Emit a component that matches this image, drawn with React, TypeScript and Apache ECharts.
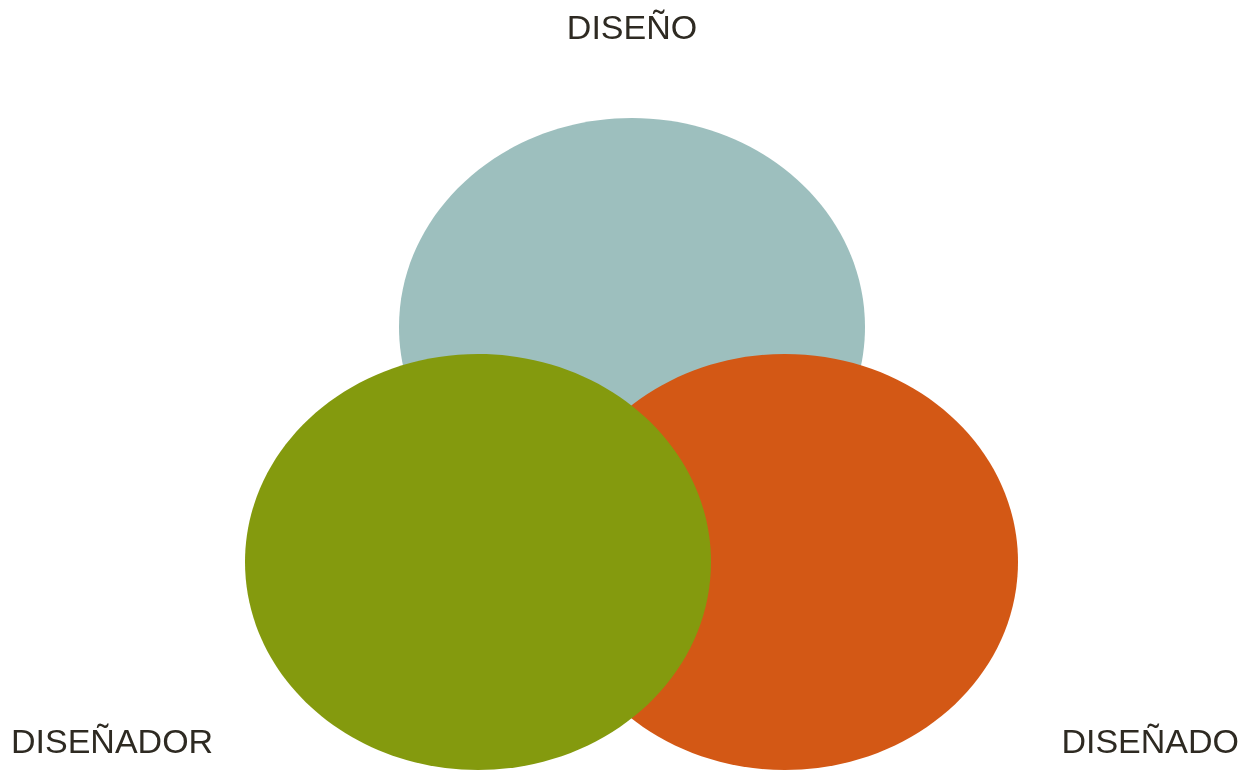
import React, { useEffect, useRef } from "react";
import * as echarts from "echarts";

const sets = ["DISEÑO", "DISEÑADOR", "DISEÑADO"];
const centerX = [632, 478, 785];
const centerY = [327, 562, 562];
const radiusX = [233, 233, 233];
const radiusY = [209, 208, 208];
const colors = ["#9DBFBE", "#849A0E", "#D35815"];

// draw order: teal at back, then orange, then green on top
const drawOrder = [0, 2, 1];

export default function App() {
  const ref = useRef<HTMLDivElement>(null);
  useEffect(() => {
    if (!ref.current) return;
    const chart = echarts.init(ref.current, null, { renderer: "svg" });
    const data = drawOrder.map((i) => ({
      name: sets[i],
      value: [centerX[i], centerY[i], radiusX[i], radiusY[i]],
      itemStyle: { color: colors[i] },
    }));
    chart.setOption({
      animation: false,
      grid: { left: 0, right: 0, top: 0, bottom: 0 },
      xAxis: { type: "value", min: 0, max: 1245, show: false },
      yAxis: { type: "value", min: 0, max: 771, inverse: true, show: false },
      series: [
        {
          type: "custom",
          coordinateSystem: "cartesian2d",
          data,
          renderItem: (params: any, api: any) => {
            const c = api.coord([api.value(0), api.value(1)]);
            const s = api.size([api.value(2), api.value(3)]);
            return {
              type: "ellipse",
              shape: { cx: c[0], cy: c[1], rx: s[0], ry: s[1] },
              style: { fill: api.visual("color") },
            };
          },
        },
      ],
      graphic: [
        {
          type: "text",
          x: 632,
          y: 27,
          style: {
            text: sets[0],
            fontSize: 34,
            fontFamily: "Liberation Sans, Arial, sans-serif",
            fill: "#2E2A22",
            textAlign: "center",
            textVerticalAlign: "middle",
          },
        },
        {
          type: "text",
          x: 11,
          y: 741,
          style: {
            text: sets[1],
            fontSize: 34,
            fontFamily: "Liberation Sans, Arial, sans-serif",
            fill: "#2E2A22",
            textAlign: "left",
            textVerticalAlign: "middle",
          },
        },
        {
          type: "text",
          x: 1239,
          y: 741,
          style: {
            text: sets[2],
            fontSize: 34,
            fontFamily: "Liberation Sans, Arial, sans-serif",
            fill: "#2E2A22",
            textAlign: "right",
            textVerticalAlign: "middle",
          },
        },
      ],
    });
    return () => chart.dispose();
  }, []);
  return (
    <div
      ref={ref}
      style={{ position: "fixed", left: 0, top: 0, width: 1245, height: 771 }}
    />
  );
}
